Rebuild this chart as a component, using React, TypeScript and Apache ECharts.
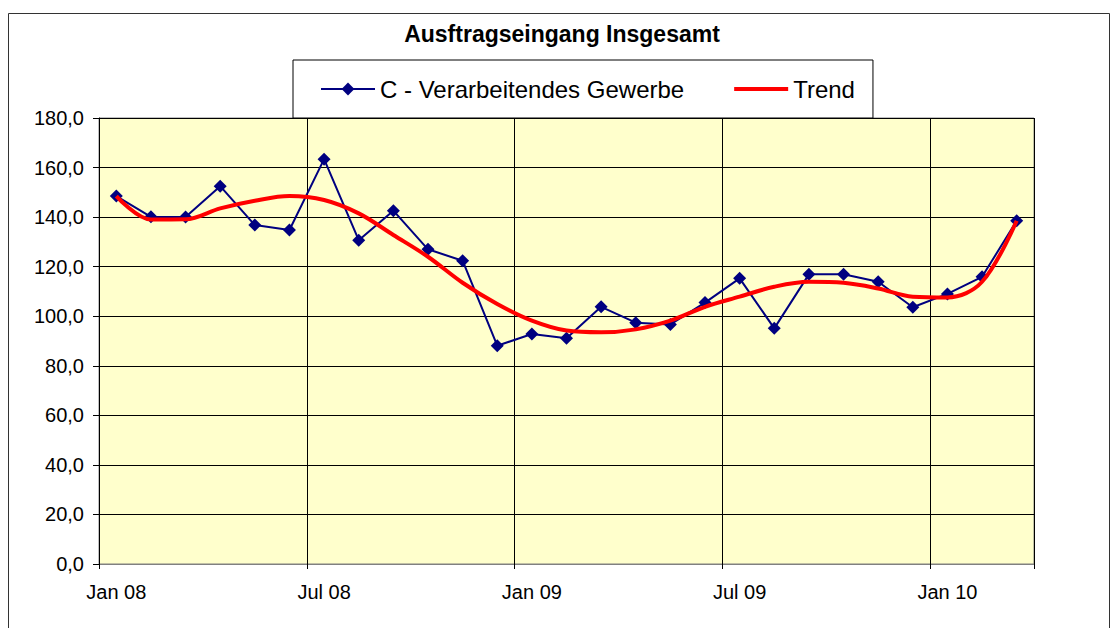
import React, { useEffect, useRef } from "react";
import * as echarts from "echarts";

const months = [
  "Jan 08", "Feb 08", "Mär 08", "Apr 08", "Mai 08", "Jun 08", "Jul 08", "Aug 08", "Sep 08", "Okt 08", "Nov 08", "Dez 08",
  "Jan 09", "Feb 09", "Mär 09", "Apr 09", "Mai 09", "Jun 09", "Jul 09", "Aug 09", "Sep 09", "Okt 09", "Nov 09", "Dez 09",
  "Jan 10", "Feb 10", "Mär 10",
];

const verarbeitendes = [
  148.5, 140.1, 140.0, 152.5, 136.8, 134.8, 163.4, 130.7, 142.6, 127.0, 122.4, 88.1,
  92.8, 91.1, 103.8, 97.4, 96.7, 105.5, 115.3, 95.1, 116.9, 116.9, 113.9, 103.6,
  109.0, 115.9, 138.5,
];

const trend = [
  148.5, 139.0, 139.1, 143.5, 146.6, 148.5, 146.9, 141.5, 132.8, 124.0, 113.5, 104.9,
  98.2, 94.2, 93.5, 94.7, 98.2, 103.8, 107.9, 111.9, 113.9, 113.5, 111.2, 107.9,
  107.6, 113.9, 138.5,
];

const yTicks = { min: 0, max: 180, interval: 20 };

const FONT = "'Liberation Sans', Arial, sans-serif";

export default function App() {
  const ref = useRef<HTMLDivElement>(null);

  useEffect(() => {
    if (!ref.current) return;
    const chart = echarts.init(ref.current, undefined, { renderer: "svg" });
    chart.setOption({
      animation: false,
      backgroundColor: "#ffffff",
      title: {
        text: "Ausftragseingang Insgesamt",
        left: 562,
        textAlign: "center",
        top: 22,
        padding: 0,
        textStyle: { fontFamily: FONT, fontSize: 23, fontWeight: "bold", color: "#000" },
      },
      legend: {
        left: 293,
        top: 60,
        padding: [17, 18, 17, 27],
        itemGap: 50,
        itemWidth: 54,
        itemHeight: 16,
        borderColor: "#000",
        borderWidth: 1,
        borderRadius: 0,
        backgroundColor: "#fff",
        textStyle: { fontFamily: FONT, fontSize: 24, color: "#000" },
        data: [
          { name: "C - Verarbeitendes Gewerbe" },
          {
            name: "Trend",
            icon: "path://M0,0H54V4H0Z",
            itemStyle: { color: "#ff0000" },
          },
        ],
        z: 10,
      },
      graphic: [
        {
          type: "rect",
          shape: { x: 8.5, y: 13.5, width: 1101, height: 640 },
          style: { fill: "none", stroke: "#333", lineWidth: 1 },
          silent: true,
          z: -1,
        },
      ],
      grid: {
        left: 99,
        right: 82,
        top: 118,
        bottom: 64,
        show: true,
        backgroundColor: "#FFFFCC",
        borderColor: "#808080",
        borderWidth: 1,
      },
      xAxis: {
        type: "category",
        data: months,
        boundaryGap: true,
        axisLine: { show: true, lineStyle: { color: "#808080", width: 1 } },
        axisTick: { show: true, interval: 5, length: 5, lineStyle: { color: "#000" } },
        axisLabel: {
          interval: 5,
          margin: 18,
          fontFamily: FONT,
          fontSize: 20,
          color: "#000",
        },
        splitLine: { show: true, interval: 5, lineStyle: { color: "#000", width: 1 } },
      },
      yAxis: {
        type: "value",
        min: yTicks.min,
        max: yTicks.max,
        interval: yTicks.interval,
        axisLine: { show: true, lineStyle: { color: "#000", width: 1 } },
        axisTick: { show: true, length: 6, lineStyle: { color: "#000" } },
        axisLabel: {
          margin: 15,
          fontFamily: FONT,
          fontSize: 20,
          color: "#000",
          formatter: (v: number) => v.toFixed(1).replace(".", ","),
        },
        splitLine: { show: true, lineStyle: { color: "#000", width: 1 } },
      },
      series: [
        {
          name: "C - Verarbeitendes Gewerbe",
          type: "line",
          data: verarbeitendes,
          symbol: "diamond",
          symbolSize: 13,
          itemStyle: { color: "#000080" },
          lineStyle: { color: "#000080", width: 2 },
          z: 3,
        },
        {
          name: "Trend",
          type: "line",
          data: trend,
          smooth: 0.35,
          showSymbol: false,
          symbol: "none",
          itemStyle: { color: "#ff0000" },
          lineStyle: { color: "#ff0000", width: 4 },
          z: 4,
        },
      ],
    });
    return () => chart.dispose();
  }, []);

  return (
    <div
      ref={ref}
      style={{ position: "fixed", left: 0, top: 0, width: 1116, height: 628 }}
    />
  );
}
